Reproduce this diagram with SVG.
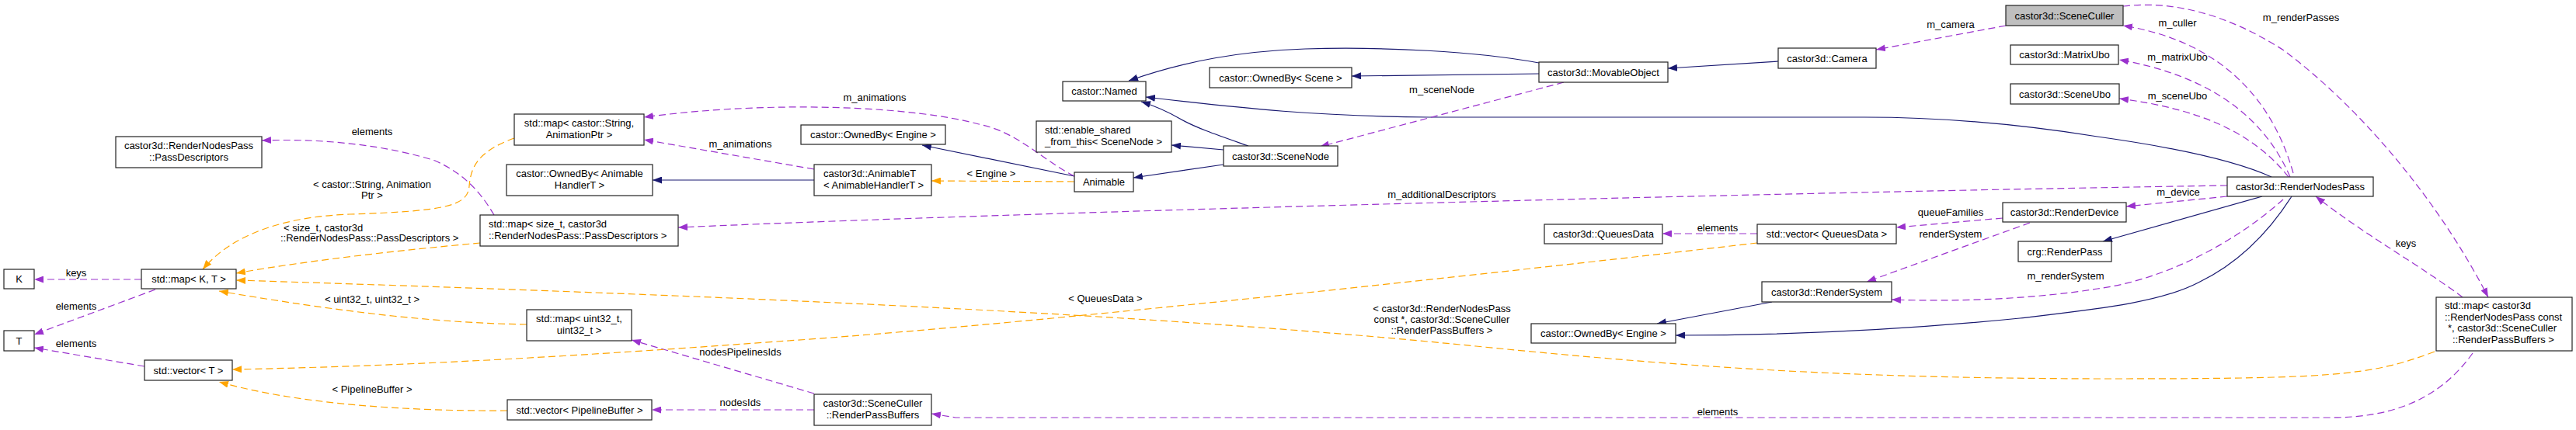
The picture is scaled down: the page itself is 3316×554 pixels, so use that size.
<svg xmlns="http://www.w3.org/2000/svg" width="3316" height="554" viewBox="0 0 3316 554">
<style>
text{font-family:"Liberation Sans",Arial,sans-serif;font-size:13px;fill:#000}
.c{text-anchor:middle}
.n rect{fill:#fff;stroke:#222;stroke-width:1.2}
.g rect{fill:#bfbfbf}
.inh{fill:none;stroke:#191970;stroke-width:1.2}
.use{fill:none;stroke:#9a32cd;stroke-width:1.2;stroke-dasharray:9,5}
.tpl{fill:none;stroke:#ffa500;stroke-width:1.2;stroke-dasharray:9,5}
</style>
<defs>
<marker id="aB" markerWidth="13" markerHeight="9" refX="12" refY="4.5" orient="auto" markerUnits="userSpaceOnUse"><path d="M0,0 L12,4.5 L0,9 z" fill="#191970"/></marker>
<marker id="aP" markerWidth="13" markerHeight="9" refX="12" refY="4.5" orient="auto" markerUnits="userSpaceOnUse"><path d="M0,0 L12,4.5 L0,9 z" fill="#9a32cd"/></marker>
<marker id="aO" markerWidth="13" markerHeight="9" refX="12" refY="4.5" orient="auto" markerUnits="userSpaceOnUse"><path d="M0,0 L12,4.5 L0,9 z" fill="#ffa500"/></marker>
</defs>
<rect width="3316" height="554" fill="#fff"/>
<g id="edges">
<!-- inheritance -->
<path class="inh" marker-end="url(#aB)" d="M1981,81 C1900,66 1780,60 1680,63 C1600,66 1530,77 1453,104"/>
<path class="inh" marker-end="url(#aB)" d="M1981,95 L1740,98"/>
<path class="inh" marker-end="url(#aB)" d="M2289,79 L2147,88"/>
<path class="inh" marker-end="url(#aB)" d="M1607,188 C1570,175 1540,165 1519,153 C1500,142 1485,136 1469,131"/>
<path class="inh" marker-end="url(#aB)" d="M1575,193 L1508,187"/>
<path class="inh" marker-end="url(#aB)" d="M1575,212 L1459,229"/>
<path class="inh" marker-end="url(#aB)" d="M1383,227 L1187,187"/>
<path class="inh" marker-end="url(#aB)" d="M1048,232 L840,232"/>
<path class="inh" marker-end="url(#aB)" d="M2924,228 C2880,208 2800,190 2700,176 C2600,160 2500,151 2400,151 L1840,151 C1700,150 1600,140 1475,125"/>
<path class="inh" marker-end="url(#aB)" d="M2912,253 L2707,311"/>
<path class="inh" marker-end="url(#aB)" d="M2950,253 C2920,300 2880,340 2830,364 C2780,390 2700,398 2600,410 C2450,425 2300,432 2157,432"/>
<path class="inh" marker-end="url(#aB)" d="M2281,389 L2133,417"/>
<!-- usage -->
<path class="use" marker-end="url(#aP)" d="M2582,33 L2415,64"/>
<path class="use" marker-end="url(#aP)" d="M2013,106 L1699,189"/>
<path class="use" marker-end="url(#aP)" d="M2867,239 C2400,246 1400,270 873,293"/>
<path class="use" marker-end="url(#aP)" d="M3183,455 C3140,515 3080,538 3000,538 L1230,538 L1199,533"/>
<path class="use" marker-end="url(#aP)" d="M1048,528 L839,528"/>
<path class="use" marker-end="url(#aP)" d="M1048,507 L813,438"/>
<path class="use" marker-end="url(#aP)" d="M2262,301 L2140,301"/>
<path class="use" marker-end="url(#aP)" d="M2578,281 L2441,293"/>
<path class="use" marker-end="url(#aP)" d="M2613,287 L2403,363"/>
<path class="use" marker-end="url(#aP)" d="M2939,257 C2880,310 2790,360 2700,372 C2620,385 2520,389 2435,386"/>
<path class="use" marker-end="url(#aP)" d="M2867,253 L2737,266"/>
<path class="use" marker-end="url(#aP)" d="M2946,228 C2900,170 2830,140 2728,127"/>
<path class="use" marker-end="url(#aP)" d="M2948,228 C2910,140 2830,95 2728,77"/>
<path class="use" marker-end="url(#aP)" d="M2952,223 C2920,110 2840,50 2733,33"/>
<path class="use" marker-end="url(#aP)" d="M2733,8 C2800,0 2870,20 2940,65 C3040,140 3140,260 3203,383"/>
<path class="use" marker-end="url(#aP)" d="M3170,383 C3120,345 3040,300 2981,253"/>
<path class="use" marker-end="url(#aP)" d="M1383,227 C1340,205 1310,170 1260,160 C1180,138 1000,128 829,151"/>
<path class="use" marker-end="url(#aP)" d="M1048,218 L829,180"/>
<path class="use" marker-end="url(#aP)" d="M636,277 C620,250 600,225 560,207 C500,188 420,178 337,181"/>
<path class="use" marker-end="url(#aP)" d="M182,360 L44,360"/>
<path class="use" marker-end="url(#aP)" d="M200,373 L44,431"/>
<path class="use" marker-end="url(#aP)" d="M186,472 L44,448"/>
<!-- template instances -->
<path class="tpl" marker-end="url(#aO)" d="M662,178 C615,195 606,215 604,240 C602,265 575,272 450,276 C370,279 300,300 261,347"/>
<path class="tpl" marker-end="url(#aO)" d="M618,313 C520,322 400,335 304,352"/>
<path class="tpl" marker-end="url(#aO)" d="M678,418 C560,416 440,402 282,375"/>
<path class="tpl" marker-end="url(#aO)" d="M3134,453 C3050,485 3000,488 2700,488 C2400,487 2200,476 1900,446 C1500,406 1000,383 304,361"/>
<path class="tpl" marker-end="url(#aO)" d="M2262,313 C1900,355 1300,420 1000,440 C700,462 500,472 299,476"/>
<path class="tpl" marker-end="url(#aO)" d="M653,529 C520,530 380,520 282,492"/>
<path class="tpl" marker-end="url(#aO)" d="M1383,234 L1199,233"/>
<!-- labels -->
<text class="c" x="2511" y="36">m_camera</text>
<text class="c" x="1856" y="120">m_sceneNode</text>
<text class="c" x="1856" y="255">m_additionalDescriptors</text>
<text class="c" x="2211" y="535">elements</text>
<text class="c" x="953" y="523">nodesIds</text>
<text class="c" x="953" y="458">nodesPipelinesIds</text>
<text class="c" x="2211" y="298">elements</text>
<text class="c" x="2511" y="278">queueFamilies</text>
<text class="c" x="2511" y="306">renderSystem</text>
<text class="c" x="2659" y="360">m_renderSystem</text>
<text class="c" x="2804" y="252">m_device</text>
<text class="c" x="2803" y="128">m_sceneUbo</text>
<text class="c" x="2803" y="78">m_matrixUbo</text>
<text class="c" x="2803" y="34">m_culler</text>
<text class="c" x="2962" y="27">m_renderPasses</text>
<text class="c" x="3097" y="318">keys</text>
<text class="c" x="1126" y="130">m_animations</text>
<text class="c" x="953" y="190">m_animations</text>
<text class="c" x="479" y="174">elements</text>
<text class="c" x="479" y="242">&lt; castor::String, Animation</text>
<text class="c" x="479" y="256">Ptr &gt;</text>
<text x="365" y="298">&lt; size_t, castor3d</text>
<text x="361" y="311">::RenderNodesPass::PassDescriptors &gt;</text>
<text class="c" x="98" y="356">keys</text>
<text class="c" x="98" y="399">elements</text>
<text class="c" x="98" y="447">elements</text>
<text class="c" x="479" y="390">&lt; uint32_t, uint32_t &gt;</text>
<text class="c" x="479" y="506">&lt; PipelineBuffer &gt;</text>
<text class="c" x="1423" y="389">&lt; QueuesData &gt;</text>
<text class="c" x="1856" y="402">&lt; castor3d::RenderNodesPass</text>
<text class="c" x="1856" y="416">const *, castor3d::SceneCuller</text>
<text class="c" x="1856" y="430">::RenderPassBuffers &gt;</text>
<text class="c" x="1276" y="228">&lt; Engine &gt;</text>
</g>
<g id="n_passdescriptors" class="n"><rect x="149" y="176" width="188" height="40"/><text class="c" x="243" y="192">castor3d::RenderNodesPass</text><text class="c" x="243" y="207">::PassDescriptors</text></g>
<g id="n_K" class="n"><rect x="5" y="347" width="39" height="25"/><text class="c" x="24.5" y="364">K</text></g>
<g id="n_T" class="n"><rect x="5" y="426" width="39" height="26"/><text class="c" x="24.5" y="443.5">T</text></g>
<g id="n_mapKT" class="n"><rect x="182" y="347" width="122" height="25"/><text class="c" x="243" y="364">std::map&lt; K, T &gt;</text></g>
<g id="n_vectorT" class="n"><rect x="186" y="464" width="113" height="26"/><text class="c" x="242.5" y="481.5">std::vector&lt; T &gt;</text></g>
<g id="n_mapString" class="n"><rect x="662" y="147" width="167" height="40"/><text class="c" x="745.5" y="163">std::map&lt; castor::String,</text><text class="c" x="745.5" y="178">AnimationPtr &gt;</text></g>
<g id="n_ownedByHandler" class="n"><rect x="652" y="212" width="188" height="40"/><text class="c" x="746" y="228">castor::OwnedBy&lt; Animable</text><text class="c" x="746" y="243">HandlerT &gt;</text></g>
<g id="n_mapSizeT" class="n"><rect x="618" y="277" width="255" height="40"/><text x="629" y="293">std::map&lt; size_t, castor3d</text><text x="629" y="308">::RenderNodesPass::PassDescriptors &gt;</text></g>
<g id="n_mapUint" class="n"><rect x="678" y="399" width="135" height="40"/><text class="c" x="745.5" y="415">std::map&lt; uint32_t,</text><text class="c" x="745.5" y="430">uint32_t &gt;</text></g>
<g id="n_vectorPipeline" class="n"><rect x="653" y="515" width="186" height="26"/><text class="c" x="746" y="532.5">std::vector&lt; PipelineBuffer &gt;</text></g>
<g id="n_renderPassBuffers" class="n"><rect x="1048" y="508" width="151" height="40"/><text class="c" x="1123.5" y="524">castor3d::SceneCuller</text><text class="c" x="1123.5" y="539">::RenderPassBuffers</text></g>
<g id="n_ownedByEngineTop" class="n"><rect x="1031" y="161" width="186" height="25"/><text class="c" x="1124" y="178">castor::OwnedBy&lt; Engine &gt;</text></g>
<g id="n_animableT" class="n"><rect x="1048" y="212" width="151" height="40"/><text x="1060" y="228">castor3d::AnimableT</text><text x="1060" y="243">&lt; AnimableHandlerT &gt;</text></g>
<g id="n_named" class="n"><rect x="1368" y="105" width="107" height="25"/><text class="c" x="1421.5" y="122">castor::Named</text></g>
<g id="n_enableShared" class="n"><rect x="1334" y="156" width="174" height="40"/><text x="1345" y="172">std::enable_shared</text><text x="1345" y="187">_from_this&lt; SceneNode &gt;</text></g>
<g id="n_animable" class="n"><rect x="1383" y="222" width="76" height="25"/><text class="c" x="1421" y="239">Animable</text></g>
<g id="n_sceneNode" class="n"><rect x="1575" y="188" width="147" height="26"/><text class="c" x="1648.5" y="205.5">castor3d::SceneNode</text></g>
<g id="n_ownedByScene" class="n"><rect x="1557" y="87" width="183" height="26"/><text class="c" x="1648.5" y="104.5">castor::OwnedBy&lt; Scene &gt;</text></g>
<g id="n_movableObject" class="n"><rect x="1981" y="80" width="166" height="26"/><text class="c" x="2064" y="97.5">castor3d::MovableObject</text></g>
<g id="n_camera" class="n"><rect x="2289" y="62" width="126" height="26"/><text class="c" x="2352" y="79.5">castor3d::Camera</text></g>
<g id="n_sceneCuller" class="n g"><rect x="2582" y="7" width="151" height="26"/><text class="c" x="2657.5" y="24.5">castor3d::SceneCuller</text></g>
<g id="n_matrixUbo" class="n"><rect x="2588" y="58" width="139" height="25"/><text class="c" x="2657.5" y="75">castor3d::MatrixUbo</text></g>
<g id="n_sceneUbo" class="n"><rect x="2588" y="108" width="140" height="26"/><text class="c" x="2658" y="125.5">castor3d::SceneUbo</text></g>
<g id="n_renderNodesPass" class="n"><rect x="2867" y="228" width="188" height="25"/><text class="c" x="2961" y="245">castor3d::RenderNodesPass</text></g>
<g id="n_renderDevice" class="n"><rect x="2578" y="261" width="159" height="25"/><text class="c" x="2657.5" y="278">castor3d::RenderDevice</text></g>
<g id="n_crgRenderPass" class="n"><rect x="2598" y="311" width="120" height="26"/><text class="c" x="2658" y="328.5">crg::RenderPass</text></g>
<g id="n_vectorQueues" class="n"><rect x="2262" y="289" width="179" height="25"/><text class="c" x="2351.5" y="306">std::vector&lt; QueuesData &gt;</text></g>
<g id="n_queuesData" class="n"><rect x="1988" y="289" width="152" height="25"/><text class="c" x="2064" y="306">castor3d::QueuesData</text></g>
<g id="n_renderSystem" class="n"><rect x="2268" y="363" width="167" height="26"/><text class="c" x="2351.5" y="380.5">castor3d::RenderSystem</text></g>
<g id="n_ownedByEngineBottom" class="n"><rect x="1971" y="417" width="186" height="25"/><text class="c" x="2064" y="434">castor::OwnedBy&lt; Engine &gt;</text></g>
<g id="n_mapRenderPasses" class="n"><rect x="3136" y="383" width="175" height="69"/><text x="3147" y="398">std::map&lt; castor3d</text><text x="3147" y="412.5">::RenderNodesPass const</text><text x="3151" y="427"> *, castor3d::SceneCuller</text><text x="3157" y="441.5">::RenderPassBuffers &gt;</text></g>
</svg>
